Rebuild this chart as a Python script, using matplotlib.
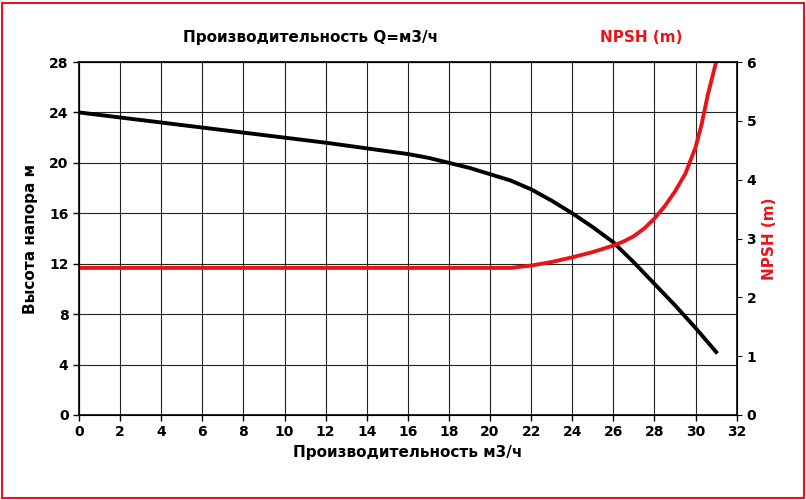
import numpy as np
import matplotlib.pyplot as plt
from matplotlib.patches import Rectangle

# Head curve (Q m3/h -> H m)
q_head = [0, 4, 8, 12, 16, 17, 18, 19, 20, 21, 22, 23, 24, 25, 26, 27, 28, 29, 30, 31]
h_head = [24, 23.2, 22.4, 21.6, 20.7, 20.4, 20.0, 19.6, 19.1, 18.6, 17.9, 17.0, 16.0,
          14.9, 13.7, 12.1, 10.4, 8.7, 6.9, 5.0]

# NPSH curve (Q m3/h -> NPSH m)
q_npsh = [0, 21, 22, 23, 24, 25, 26, 26.5, 27, 27.5, 28, 28.5, 29, 29.5, 30, 30.3, 30.6, 31]
npsh = [2.5, 2.5, 2.54, 2.6, 2.68, 2.77, 2.88, 2.95, 3.04, 3.17, 3.34, 3.55, 3.8,
        4.1, 4.55, 4.95, 5.45, 6.0]

fig = plt.figure(figsize=(8.06, 5.0), dpi=100)
ax = fig.add_axes([0.098, 0.17, 0.816, 0.706])
ax.plot(q_head, h_head, color="black", lw=2.8, solid_joinstyle="round")
ax.set_xlim(0, 32)
ax.set_ylim(0, 28)
ax.set_xticks(range(0, 33, 2))
ax.set_yticks(range(0, 29, 4))
ax.grid(True, color="#222222", lw=0.8)
for s in ax.spines.values():
    s.set_linewidth(1.2)
ax.tick_params(labelsize=10, width=1, length=4)
for lab in ax.get_xticklabels() + ax.get_yticklabels():
    lab.set_fontweight("bold")
ax.set_xlabel("Производительность м3/ч", fontsize=11, fontweight="bold")
ax.set_ylabel("Высота напора м", fontsize=11, fontweight="bold", labelpad=8)

ax2 = ax.twinx()
ax2.plot(q_npsh, npsh, color="#e8141c", lw=2.8, solid_joinstyle="round")
ax2.set_ylim(0, 6)
ax2.set_yticks(range(0, 7))
ax2.tick_params(labelsize=10)
for lab in ax2.get_yticklabels():
    lab.set_fontweight("bold")
ax2.set_ylabel("NPSH (m)", color="#e8141c", fontsize=11, fontweight="bold")

fig.text(0.385, 0.925, "Производительность Q=м3/ч", ha="center", va="center",
         fontsize=11, fontweight="bold")
fig.text(0.795, 0.925, "NPSH (m)", ha="center", va="center",
         fontsize=11, fontweight="bold", color="#e8141c")

fig.patches.append(Rectangle((0.003, 0.005), 0.994, 0.99, transform=fig.transFigure,
                             fill=False, edgecolor="#e8141c", lw=1.5))
fig.savefig("out.png", dpi=100)
